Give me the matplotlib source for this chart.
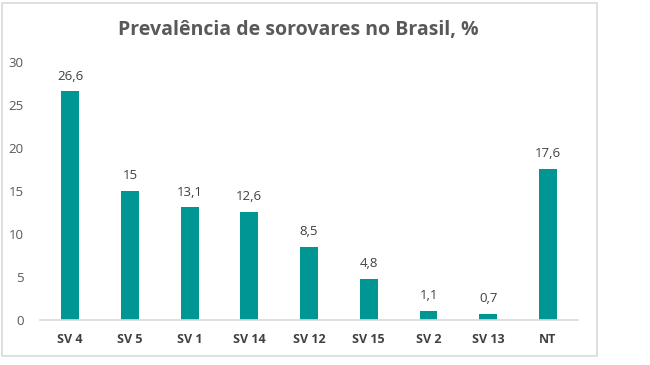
import matplotlib.pyplot as plt
from matplotlib.patches import Rectangle

# Data
categories = ['SV 4', 'SV 5', 'SV 1', 'SV 14', 'SV 12', 'SV 15', 'SV 2', 'SV 13', 'NT']
values = [26.6, 15, 13.1, 12.6, 8.5, 4.8, 1.1, 0.7, 17.6]
yticks = [0, 5, 10, 15, 20, 25, 30]

plt.rcParams['font.family'] = ['Open Sans', 'DejaVu Sans']

fig = plt.figure(figsize=(6.5, 3.65), dpi=100)
ax = fig.add_axes([0.062, 0.123, 0.827, 0.707])

# outer chart frame
fig.patches.append(Rectangle((2 / 650, 1 - 356 / 365), 595 / 650, 353 / 365,
                             transform=fig.transFigure, fill=False,
                             edgecolor='#d9d9d9', linewidth=1.2))

x = range(len(categories))
bars = ax.bar(x, values, width=0.3, color='#009694')

for b, v in zip(bars, values):
    label = f'{v:g}'.replace('.', ',')
    ax.text(b.get_x() + b.get_width() / 2, v + 1.0, label,
            ha='center', va='bottom', fontsize=9.5, color='#404040')

ax.set_xlim(-0.5, len(categories) - 0.5)
ax.set_ylim(0, 30)
ax.set_yticks(yticks)
ax.set_xticks(list(x))
ax.set_xticklabels(categories, fontsize=9, fontweight='bold', color='#404040')
ax.tick_params(axis='y', labelsize=9.5, labelcolor='#595959', length=0, pad=12)
ax.tick_params(axis='x', length=0, pad=9)
for s in ['top', 'right', 'left']:
    ax.spines[s].set_visible(False)
ax.spines['bottom'].set_color('#d9d9d9')
ax.spines['bottom'].set_linewidth(1.2)

fig.text(298 / 650, 1 - 30 / 365, 'Prevalência de sorovares no Brasil, %',
         ha='center', va='center', fontsize=14, fontweight='bold', color='#595959')

fig.savefig('out.png', dpi=100)
